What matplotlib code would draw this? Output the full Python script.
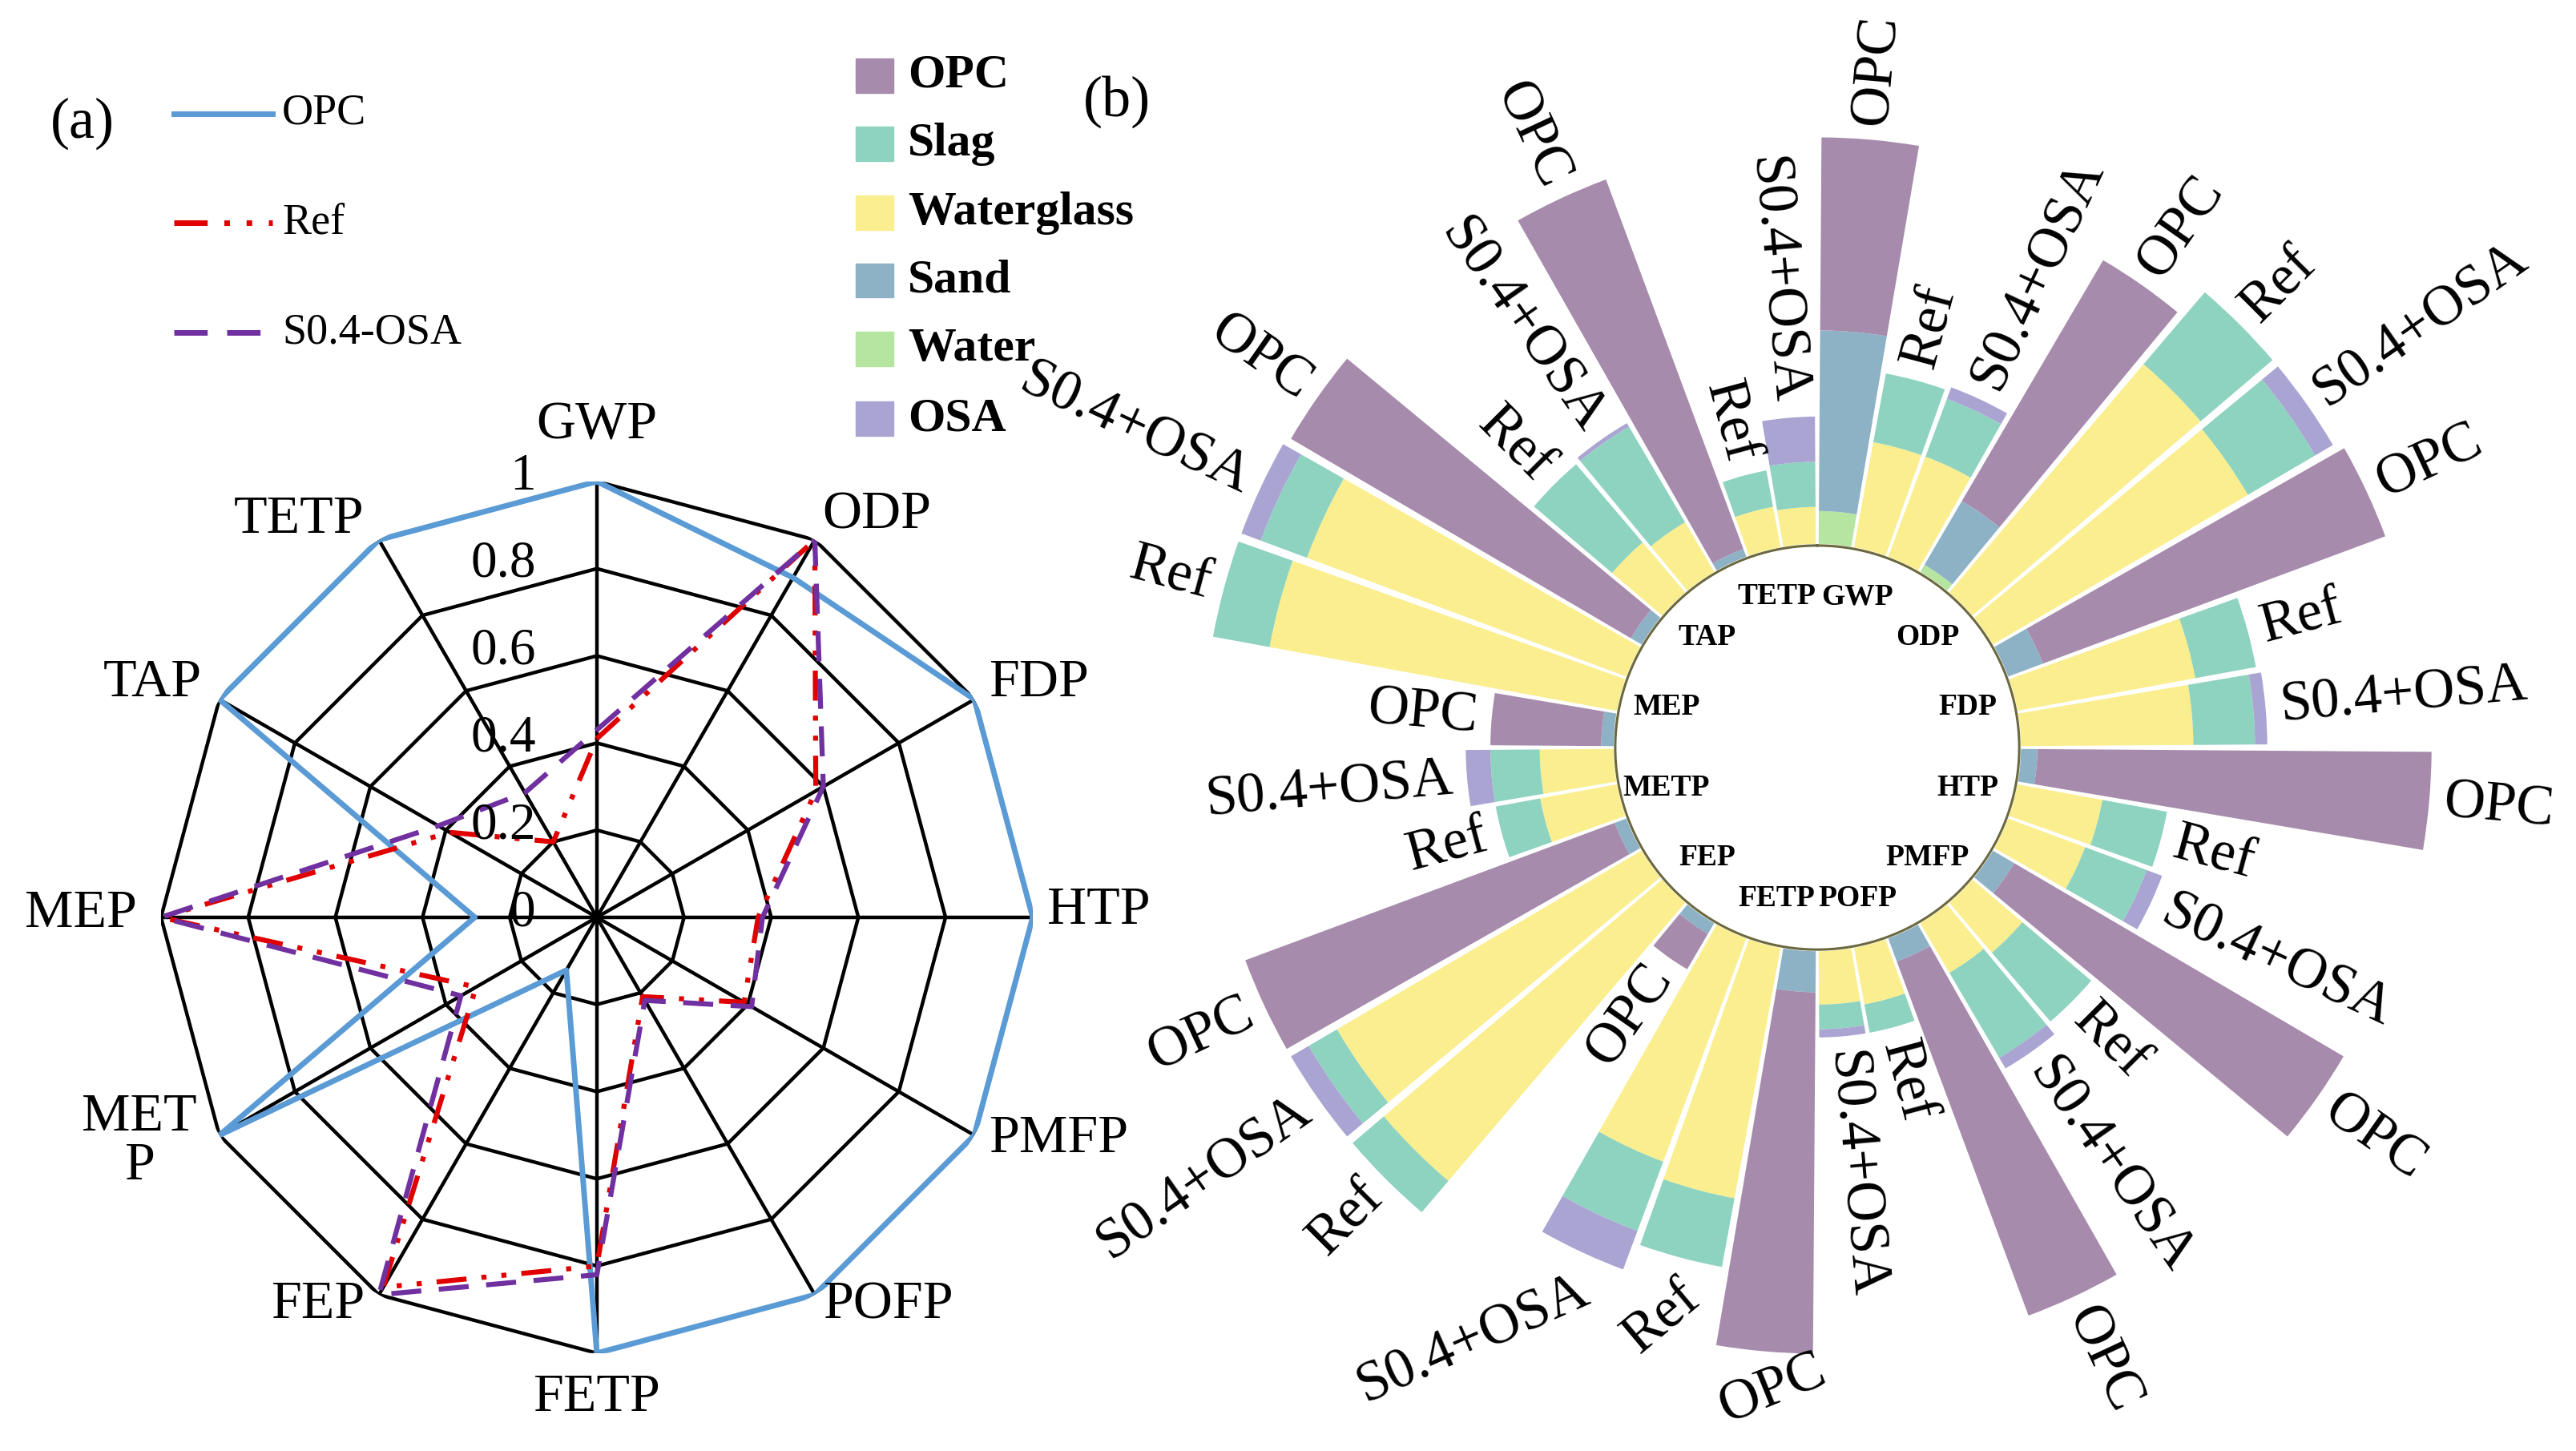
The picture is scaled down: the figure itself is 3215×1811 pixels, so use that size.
import numpy as np
import matplotlib.pyplot as plt
from matplotlib.lines import Line2D
from matplotlib.patches import Rectangle

plt.rcParams['font.family'] = ['Liberation Serif', 'DejaVu Serif']

categories = ['GWP', 'ODP', 'FDP', 'HTP', 'PMFP', 'POFP',
              'FETP', 'FEP', 'METP', 'MEP', 'TAP', 'TETP']

# (a) normalised impact of each mix
radar_opc = [1.0, 0.9, 1.0, 1.0, 1.0, 1.0, 1.0, 0.14, 1.0, 0.28, 1.0, 1.0]
radar_ref = [0.41, 1.0, 0.58, 0.37, 0.39, 0.21, 0.8, 0.98, 0.32, 1.0, 0.39, 0.2]
radar_s04 = [0.43, 1.0, 0.6, 0.38, 0.41, 0.22, 0.82, 1.0, 0.36, 1.0, 0.42, 0.33]
radar_ticks = [0, 0.2, 0.4, 0.6, 0.8, 1]

# (b) contribution of each ingredient, per category
mixes = ['OPC', 'Ref', 'S0.4+OSA']
opc_water = [0.08, 0.02, 0, 0, 0, 0, 0, 0, 0, 0, 0, 0]
opc_sand = [0.44, 0.18, 0.09, 0.04, 0.06, 0.06, 0.10, 0.03, 0.03, 0.03, 0.03, 0.02]
opc_cement = [0.47, 0.68, 0.89, 0.96, 0.93, 0.92, 0.88, 0.10, 0.96, 0.27, 0.96, 0.96]
ref_waterglass = [0.26, 0.73, 0.44, 0.21, 0.16, 0.14, 0.62, 0.89, 0.19, 0.86, 0.16, 0.10]
ref_slag = [0.17, 0.23, 0.15, 0.16, 0.22, 0.07, 0.17, 0.10, 0.11, 0.14, 0.25, 0.09]
s04_waterglass = [0.26, 0.72, 0.42, 0.20, 0.14, 0.13, 0.58, 0.86, 0.18, 0.83, 0.14, 0.09]
s04_slag = [0.15, 0.19, 0.15, 0.16, 0.24, 0.06, 0.18, 0.08, 0.12, 0.12, 0.27, 0.11]
s04_osa = [0.03, 0.05, 0.03, 0.04, 0.03, 0.02, 0.10, 0.05, 0.06, 0.05, 0.01, 0.11]

components = ['OPC', 'Slag', 'Waterglass', 'Sand', 'Water', 'OSA']
colors = {'OPC': '#A78BAD', 'Slag': '#8ED3C0', 'Waterglass': '#FBEE8E',
          'Sand': '#8DB2C5', 'Water': '#B5E5A0', 'OSA': '#A9A4D2'}

# stacks, listed from the hole outwards
stacks = {
    'OPC': [('Water', opc_water), ('Sand', opc_sand), ('OPC', opc_cement)],
    'Ref': [('Waterglass', ref_waterglass), ('Slag', ref_slag)],
    'S0.4+OSA': [('Waterglass', s04_waterglass), ('Slag', s04_slag), ('OSA', s04_osa)],
}

fig = plt.figure(figsize=(32.15, 18.11), dpi=100)

# ---------------- (a) radar ----------------
axa = fig.add_axes([0.0625, 0.0674, 0.3384, 0.6008], projection='polar')
axa.set_theta_zero_location('N')
axa.set_theta_direction(-1)
axa.set_ylim(0, 1)
axa.axis('off')

n = len(categories)
th = np.radians(np.arange(n) * 360 / n)
th_c = np.append(th, th[0])

for r in radar_ticks[1:]:
    axa.plot(th_c, [r] * (n + 1), color='black', lw=3.2, zorder=1)
for t in th:
    axa.plot([t, t], [0, 1], color='black', lw=3.2, zorder=1)

axa.plot(th_c, radar_opc + radar_opc[:1], color='#5B9BD5', lw=5, zorder=3)
axa.plot(th_c, radar_ref + radar_ref[:1], color='#E00000', lw=4.5,
         ls=(0, (6, 3, 1, 3, 1, 3)), zorder=4)
axa.plot(th_c, radar_s04 + radar_s04[:1], color='#7030A0', lw=4.5,
         ls=(0, (6, 3.5)), zorder=5)

for r in radar_ticks:
    axa.annotate(f'{r:g}', xy=(0, r), xytext=(-55, 4), textcoords='offset points',
                 ha='right', va='center', fontsize=47, zorder=6)

label_pos = {
    'GWP': (0, 50, 'center'), 'ODP': (7, 22, 'left'), 'FDP': (13, 15, 'left'),
    'HTP': (13, 6, 'left'), 'PMFP': (13, -3, 'left'), 'POFP': (7, -9, 'left'),
    'FETP': (0, -40, 'center'), 'FEP': (-13, -9, 'right'), 'METP': (-72, -6, 'center'),
    'MEP': (-22, 3, 'right'), 'TAP': (-16, 15, 'right'), 'TETP': (-13, 18, 'right'),
}
for t, cat in zip(th, categories):
    dx, dy, ha = label_pos[cat]
    txt = 'MET\nP' if cat == 'METP' else cat
    axa.annotate(txt, xy=(t, 1), xytext=(dx, dy), textcoords='offset points',
                 ha=ha, va='center', fontsize=49, linespacing=1.0)

# legend (a)
leg_a = [('OPC', '#5B9BD5', '-', 0.9218), ('Ref', '#E00000', (0, (6, 3, 1, 3, 1, 3)), 0.8465),
         ('S0.4-OSA', '#7030A0', (0, (6, 3.5)), 0.7708)]
for name, c, ls, y in leg_a:
    fig.add_artist(Line2D([0.0675, 0.1058], [y, y], color=c, lw=5, ls=ls,
                          transform=fig.transFigure))
    fig.text(0.1095, y, name, fontsize=39, va='center', ha='left')

fig.text(0.032, 0.915, '(a)', fontsize=52, va='center', ha='center')
fig.text(0.4336, 0.930, '(b)', fontsize=52, va='center', ha='center')

# ---------------- (b) circular stacked bars ----------------
axb = fig.add_axes([0.4504, 0.032, 0.5101, 0.9056], projection='polar')
axb.set_theta_zero_location('N')
axb.set_theta_direction(-1)
axb.set_ylim(0, 1.6)
axb.axis('off')

R0 = 0.496
width = np.radians(9.2)
ci = np.arange(n)
totals = {}
for mi, mix in enumerate(mixes):
    theta = np.radians(5 + 10 * (ci * 3 + mi))
    bottom = np.full(n, R0)
    for comp, vals in stacks[mix]:
        vals = np.array(vals)
        axb.bar(theta, vals, width=width, bottom=bottom, color=colors[comp],
                edgecolor='none', zorder=2)
        bottom = bottom + vals
    totals[mix] = bottom

circ = np.linspace(0, 2 * np.pi, 400)
axb.plot(circ, np.full(400, R0 - 0.004), color='#6B6840', lw=2.2, zorder=3)

for t, cat in zip(np.radians(15 + 30 * ci), categories):
    axb.text(t, 0.38, cat, ha='center', va='center', fontsize=27, fontweight='bold')

# the three FETP labels sit flatter than the others in the original
fetp_rot = {0: (22, 'center'), 1: (40, 'right'), 2: (24, 'right')}
for c in range(n):
    for mi, mix in enumerate(mixes):
        ang = 5 + 10 * (c * 3 + mi)
        r_end = totals[mix][c] + 0.035
        if ang < 180:
            rot, ha, va = 90 - ang, 'left', 'center'
        else:
            rot, ha, va = 270 - ang, 'right', 'center'
        if categories[c] == 'FETP':
            rot, ha = fetp_rot[mi]
            va = 'top'
        axb.text(np.radians(ang), r_end, mix, rotation=rot, rotation_mode='anchor',
                 ha=ha, va=va, fontsize=51)

# legend (b)
leg_y = [0.948, 0.9006, 0.8531, 0.8067, 0.7593, 0.7112]
for comp, y in zip(components, leg_y):
    fig.add_artist(Rectangle((0.3322, y - 0.0118), 0.0146, 0.0237, color=colors[comp],
                             transform=fig.transFigure))
    fig.text(0.3524, y, comp, fontsize=43, fontweight='bold', va='center', ha='left')

fig.savefig('out.png', dpi=100)
